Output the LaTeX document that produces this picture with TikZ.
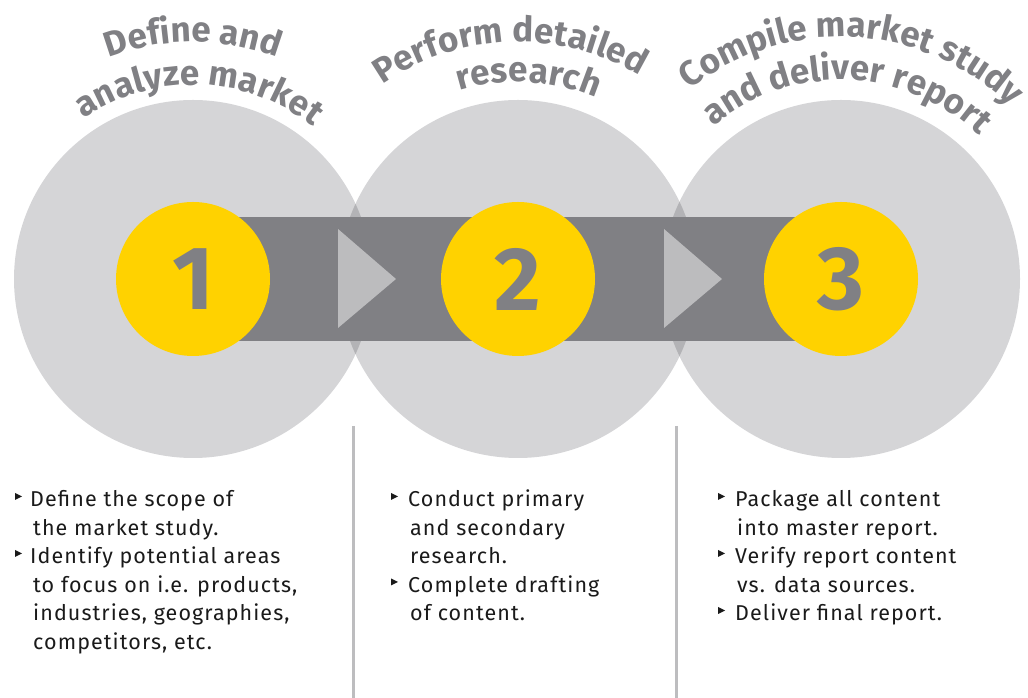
\documentclass[tikz,border=0pt]{standalone}
\usepackage{fontspec}
\setmainfont{Fira Sans}
\usetikzlibrary{decorations.text,calc}
\definecolor{circgray}{HTML}{D5D5D7}
\definecolor{lensgray}{HTML}{B3B3B6}
\definecolor{bandgray}{HTML}{808084}
\definecolor{trigray}{HTML}{BCBCBE}
\definecolor{eyyellow}{HTML}{FFD200}
\definecolor{titlegray}{HTML}{808084}
\definecolor{linegray}{HTML}{BDBDBF}
\definecolor{bodyblack}{HTML}{1A1A1A}
\newcommand{\ttlfont}{\fontsize{35}{35}\selectfont\bfseries\color{titlegray}}
\tikzset{
  bigcirc/.style={fill=circgray},
  stepnum/.style={circle, fill=eyyellow, minimum size=154pt, inner sep=0pt,
    text=bandgray, font=\fontsize{90}{90}\selectfont\bfseries},
  flowtri/.style={fill=trigray},
  sepline/.style={draw=linegray, line width=3pt},
  bodyline/.style={anchor=base west, inner sep=0pt, text=bodyblack,
    font=\fontsize{21.5}{24}\selectfont\addfontfeature{LetterSpace=5}},
  bul/.style={fill=bodyblack},
  arctitle/.style={decorate, decoration={text along path, text align=center, text={#1}}}
}
\begin{document}
\begin{tikzpicture}[x=1pt,y=1pt]
\useasboundingbox (0,0) rectangle (1028,698);
% big circles
\coordinate (c1) at (193,419);
\coordinate (c2) at (518,419);
\coordinate (c3) at (841,419);
\fill[bigcirc] (c1) circle (179);
\fill[bigcirc] (c2) circle (179);
\fill[bigcirc] (c3) circle (179);
% lenses
\begin{scope}
  \clip (c1) circle (179);
  \fill[lensgray] (c2) circle (179);
\end{scope}
\begin{scope}
  \clip (c2) circle (179);
  \fill[lensgray] (c3) circle (179);
\end{scope}
% band
\fill[bandgray] (193,357) rectangle (841,481);
% triangles
\fill[flowtri] (338,469) -- (338,370) -- (396,419) -- cycle;
\fill[flowtri] (664,469) -- (664,370) -- (722,419) -- cycle;
% numbered circles
\node[stepnum] (s1) at (c1) {1};
\node[stepnum] (s2) at (c2) {2};
\node[stepnum] (s3) at (c3) {3};
% curved titles
\path[arctitle={|\ttlfont|Define and}] ($(c1)+(178:237)$) arc[start angle=178, end angle=2, radius=237];
\path[arctitle={|\ttlfont|analyze market}] ($(c1)+(178:194)$) arc[start angle=178, end angle=-2, radius=194];
\path[arctitle={|\ttlfont|Perform detailed}] ($(c2)+(182:237)$) arc[start angle=182, end angle=2, radius=237];
\path[arctitle={|\ttlfont|research}] ($(c2)+(177:197)$) arc[start angle=177, end angle=-3, radius=197];
\path[arctitle={|\ttlfont|Compile market study}] ($(c3)+(177:242)$) arc[start angle=177, end angle=-3, radius=242];
\path[arctitle={|\ttlfont|and deliver report}] ($(c3)+(178:199)$) arc[start angle=178, end angle=-2, radius=199];
% separators
\coordinate (l1t) at (353,272); \coordinate (l1b) at (353,0);
\coordinate (l2t) at (676,272); \coordinate (l2b) at (676,0);
\draw[sepline] (l1t) -- (l1b);
\draw[sepline] (l2t) -- (l2b);
% column 1
\fill[bul] (15,205) -- (15,198) -- (22,201.5) -- cycle;
\node[bodyline] (a1) at (30,191) {Define the scope of};
\node[bodyline] (a2) at (33,162.5) {the market study.};
\fill[bul] (15,148) -- (15,141) -- (22,144.5) -- cycle;
\node[bodyline] (a3) at (30,134) {Identify potential areas};
\node[bodyline] (a4) at (33,105.5) {to focus on i.e. products,};
\node[bodyline] (a5) at (33,77) {industries, geographies,};
\node[bodyline] (a6) at (33,48.5) {competitors, etc.};
% column 2
\fill[bul] (391,205) -- (391,198) -- (398,201.5) -- cycle;
\node[bodyline] (b1) at (408,191) {Conduct primary};
\node[bodyline] (b2) at (410,162.5) {and secondary};
\node[bodyline] (b3) at (410,134) {research.};
\fill[bul] (391,119.5) -- (391,112.5) -- (398,116) -- cycle;
\node[bodyline] (b4) at (408,105.5) {Complete drafting};
\node[bodyline] (b5) at (410,77) {of content.};
% column 3
\fill[bul] (718,205) -- (718,198) -- (725,201.5) -- cycle;
\node[bodyline] (d1) at (735,191) {Package all content};
\node[bodyline] (d2) at (737,162.5) {into master report.};
\fill[bul] (718,148) -- (718,141) -- (725,144.5) -- cycle;
\node[bodyline] (d3) at (735,134) {Verify report content};
\node[bodyline] (d4) at (737,105.5) {vs. data sources.};
\fill[bul] (718,91) -- (718,84) -- (725,87.5) -- cycle;
\node[bodyline] (d5) at (735,77) {Deliver final report.};
\end{tikzpicture}
\end{document}
